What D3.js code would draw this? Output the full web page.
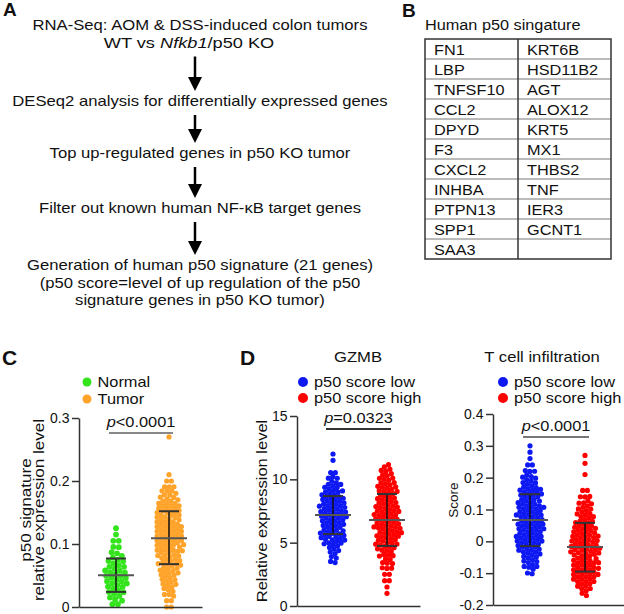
<!DOCTYPE html>
<html>
<head>
<meta charset="utf-8">
<script src="https://cdn.jsdelivr.net/npm/d3@7"></script>
<style>
  body { margin: 0; background: #fff; }
  svg { font-family: "Liberation Sans", Arial, sans-serif; }
</style>
</head>
<body>
<div id="container"></div>
<script>
// ---- panel A: workflow text (|...| = italic) ----
var flowSteps = [
  ["RNA-Seq: AOM & DSS-induced colon tumors", "WT vs |Nfkb1|/p50 KO"],
  ["DESeq2 analysis for differentially expressed genes"],
  ["Top up-regulated genes in p50 KO tumor"],
  ["Filter out known human NF-\u03baB target genes"],
  ["Generation of human p50 signature (21 genes)",
   "(p50 score=level of up regulation of the p50",
   "signature genes in p50 KO tumor)"]
];

// ---- panel B: gene table ----
var tableTitle = "Human p50 singature";
var genesLeft = ["FN1", "LBP", "TNFSF10", "CCL2", "DPYD", "F3", "CXCL2", "INHBA", "PTPN13", "SPP1", "SAA3"];
var genesRight = ["KRT6B", "HSD11B2", "AGT", "ALOX12", "KRT5", "MX1", "THBS2", "TNF", "IER3", "GCNT1", ""];

// ---- panel C: p50 signature, normal vs tumor (binned dot counts) ----
var cGroups = ["Normal", "Tumor"];
var normalLevels = [0.005, 0.015, 0.025, 0.035, 0.045, 0.055, 0.065, 0.075, 0.085, 0.095, 0.105, 0.115, 0.125];
var normalCounts = [2, 3, 5, 6, 7, 6, 5, 4, 2, 2, 2, 1, 1];
var tumorLevels = [0, 0.01, 0.02, 0.03, 0.04, 0.05, 0.06, 0.07, 0.08, 0.09, 0.10, 0.11, 0.12, 0.13, 0.14, 0.15, 0.16, 0.17, 0.18, 0.19, 0.20, 0.21, 0.27];
var tumorCounts = [2, 2, 3, 4, 5, 6, 7, 8, 8, 9, 10, 10, 10, 10, 9, 8, 8, 6, 5, 3, 2, 1, 1];
var cMean = [0.0505, 0.109];
var cSdLow = [0.024, 0.068];
var cSdHigh = [0.077, 0.152];
var cTicks = [0, 0.1, 0.2, 0.3];
var cTickLabels = ["0", "0.1", "0.2", "0.3"];
var cP = "|p|<0.0001";

// ---- panel D left: GZMB ----
var dGroups = ["p50 score low", "p50 score high"];
var gzLowLevels = [3.5, 4.0, 4.5, 5.0, 5.5, 6.0, 6.5, 7.0, 7.5, 8.0, 8.5, 9.0, 9.5, 10.0, 10.5, 11.5, 12.0];
var gzLowCounts = [2, 2, 4, 6, 8, 10, 10, 10, 10, 10, 8, 7, 5, 3, 2, 1, 1];
var gzHighLevels = [1.0, 1.5, 2.0, 2.5, 3.0, 3.5, 4.0, 4.5, 5.0, 5.5, 6.0, 6.5, 7.0, 7.5, 8.0, 8.5, 9.0, 9.5, 10.0, 10.5, 11.0];
var gzHighCounts = [1, 1, 2, 2, 3, 4, 5, 6, 7, 8, 10, 10, 10, 8, 8, 7, 7, 7, 6, 4, 2];
var gzMean = [7.18, 6.79];
var gzSdLow = [5.68, 4.74];
var gzSdHigh = [8.68, 8.84];
var gzTicks = [0, 5, 10, 15];
var gzTickLabels = ["0", "5", "10", "15"];
var gzP = "|p|=0.0323";

// ---- panel D right: T cell infiltration ----
var tLowLevels = [-0.10, -0.08, -0.06, -0.04, -0.02, 0, 0.02, 0.04, 0.06, 0.08, 0.10, 0.12, 0.14, 0.16, 0.18, 0.20, 0.22, 0.24, 0.26, 0.28, 0.30];
var tLowCounts = [2, 4, 5, 7, 8, 9, 10, 10, 10, 10, 9, 9, 8, 7, 6, 4, 3, 2, 1, 1, 1];
var tHighLevels = [-0.16, -0.14, -0.12, -0.10, -0.08, -0.06, -0.04, -0.02, 0, 0.02, 0.04, 0.06, 0.08, 0.10, 0.12, 0.14, 0.16, 0.21, 0.245, 0.27];
var tHighCounts = [2, 5, 8, 10, 10, 10, 10, 10, 10, 9, 8, 7, 6, 5, 4, 3, 2, 1, 1, 1];
var tMean = [0.067, -0.018];
var tSdLow = [-0.015, -0.095];
var tSdHigh = [0.148, 0.058];
var tTicks = [-0.2, -0.1, 0, 0.1, 0.2, 0.3, 0.4];
var tTickLabels = ["-0.2", "-0.1", "0", "0.1", "0.2", "0.3", "0.4"];
var tP = "|p|<0.0001";

var W = 624, H = 614;

var svg = d3.select("#container").append("svg")
  .attr("width", W)
  .attr("height", H);

// text helper: the figure's type is a bit stretched along the writing direction
function addText(parent, x, y, str, o) {
  var tr = "translate(" + x + "," + y + ")";
  if (o.rotate) tr += " rotate(-90)";
  tr += " scale(" + (o.sx || 1) + ",1)";
  var t = parent.append("g")
    .attr("transform", tr)
    .append("text")
    .attr("text-anchor", o.anchor || "start")
    .attr("font-size", o.size)
    .attr("font-weight", o.weight || null)
    .attr("dy", o.dy || null)
    .attr("fill", o.fill || "#111");
  str.split("|").forEach(function (part, k) {
    if (part === "") return;
    t.append("tspan")
      .attr("font-style", k % 2 === 1 ? "italic" : null)
      .text(part);
  });
  return t;
}

// panel letters
addText(svg, 3, 16, "A", { size: 19, weight: "bold" });
addText(svg, 402, 17, "B", { size: 19, weight: "bold" });
addText(svg, 2, 365, "C", { size: 21, weight: "bold" });
addText(svg, 240, 365, "D", { size: 21, weight: "bold" });

// ---------- panel A ----------
var stepBaselines = [30, 106, 158, 213, 270];
var lineGap = 17.5;
var gA = svg.append("g");
var arrowX = 195;

flowSteps.forEach(function (lines, i) {
  lines.forEach(function (line, j) {
    addText(gA, i === 0 && j === 1 ? 189 : 200, stepBaselines[i] + j * lineGap, line,
      { size: 14, sx: i === 0 && j === 1 ? 1.3 : 1.19, anchor: "middle" });
  });
  if (i < flowSteps.length - 1) {
    var y0 = stepBaselines[i] + (lines.length - 1) * lineGap + 9;
    var y1 = stepBaselines[i + 1] - 15;
    gA.append("line")
      .attr("x1", arrowX).attr("x2", arrowX)
      .attr("y1", y0).attr("y2", y1 - 10)
      .attr("stroke", "#000")
      .attr("stroke-width", 2.5);
    gA.append("path")
      .attr("d", "M" + (arrowX - 7) + "," + (y1 - 14) + "L" + (arrowX + 7) + "," + (y1 - 14) + "L" + arrowX + "," + y1 + "Z")
      .attr("fill", "#000");
  }
});

// ---------- panel B ----------
var tbl = { x: 425, y: 39, w: 186, rowH: 20, split: 93 };
var gB = svg.append("g");
addText(gB, tbl.x, 30, tableTitle, { size: 15.5, sx: 1.05 });

var rowScale = d3.scaleBand()
  .domain(d3.range(genesLeft.length))
  .range([tbl.y, tbl.y + tbl.rowH * genesLeft.length]);

gB.selectAll("line.row")
  .data(d3.range(1, genesLeft.length))
  .enter()
  .append("line")
  .attr("class", "row")
  .attr("x1", tbl.x).attr("x2", tbl.x + tbl.w)
  .attr("y1", (d) => rowScale(d)).attr("y2", (d) => rowScale(d))
  .attr("stroke", "#777")
  .attr("stroke-width", 1);
gB.append("line")
  .attr("x1", tbl.x + tbl.split).attr("x2", tbl.x + tbl.split)
  .attr("y1", tbl.y).attr("y2", tbl.y + tbl.rowH * genesLeft.length)
  .attr("stroke", "#333")
  .attr("stroke-width", 1.5);
gB.append("rect")
  .attr("x", tbl.x).attr("y", tbl.y)
  .attr("width", tbl.w).attr("height", tbl.rowH * genesLeft.length)
  .attr("fill", "none")
  .attr("stroke", "#333")
  .attr("stroke-width", 1.5);

[[genesLeft, tbl.x + 9], [genesRight, tbl.x + tbl.split + 9]].forEach(function (col) {
  col[0].forEach(function (gene, i) {
    if (gene) addText(gB, col[1], rowScale(i) + 16, gene, { size: 15.5, sx: 1.05 });
  });
});

// ---------- dot plot helper ----------
function swarm(levels, counts, y, cx, r, pack) {
  var nodes = [];
  levels.forEach(function (v, i) {
    for (var j = 0; j < counts[i]; j++) {
      nodes.push({ x: cx + (j - (counts[i] - 1) / 2) * r * 1.2, y: y(v), ty: y(v) });
    }
  });
  var sim = d3.forceSimulation(nodes)
    .force("x", d3.forceX(cx).strength(0.2))
    .force("y", d3.forceY((d) => d.ty).strength(0.6))
    .force("c", d3.forceCollide(r * pack).iterations(3))
    .stop();
  for (var k = 0; k < 300; k++) sim.tick();
  return nodes;
}

function dotPanel(p) {
  var g = svg.append("g");
  var y = d3.scaleLinear().domain(p.domain).range([p.yBot, p.yTop]);
  var x = d3.scalePoint().domain(p.groups).range(p.centers);

  // dots
  p.series.forEach(function (s, i) {
    var nodes = swarm(s[0], s[1], y, x(p.groups[i]), p.r[i], p.pack[i]);
    g.append("g").selectAll("circle")
      .data(nodes)
      .enter()
      .append("circle")
      .attr("cx", (d) => d.x)
      .attr("cy", (d) => d.y)
      .attr("r", p.r[i])
      .attr("fill", p.colors[i]);
  });

  // mean +/- SD
  p.groups.forEach(function (gname, i) {
    var cx = x(gname);
    g.append("line")
      .attr("x1", cx).attr("x2", cx)
      .attr("y1", y(p.sdLow[i])).attr("y2", y(p.sdHigh[i]))
      .attr("stroke", "#111").attr("stroke-width", 1.5);
    [p.sdLow[i], p.sdHigh[i]].forEach(function (v) {
      g.append("line")
        .attr("x1", cx - 10).attr("x2", cx + 10)
        .attr("y1", y(v)).attr("y2", y(v))
        .attr("stroke", "#333").attr("stroke-width", 2);
    });
    g.append("line")
      .attr("x1", cx - 18).attr("x2", cx + 18)
      .attr("y1", y(p.mean[i])).attr("y2", y(p.mean[i]))
      .attr("stroke", "#555").attr("stroke-width", 2);
  });

  // axes
  var yAxis = d3.axisLeft(y)
    .tickValues(p.ticks)
    .tickFormat((d, i) => p.tickLabels[i])
    .tickSize(7)
    .tickSizeOuter(0)
    .tickPadding(2.5);
  var ya = g.append("g")
    .attr("transform", "translate(" + p.axisX + ",0)")
    .call(yAxis);
  ya.attr("font-size", 14).attr("font-family", null);
  ya.selectAll("path, line").attr("stroke", "#333").attr("stroke-width", 1.5);
  ya.selectAll("text").attr("fill", "#111").attr("dy", "0.33em");

  var xf = d3.scaleLinear().range([p.axisX, p.axisEnd]);
  var xa = g.append("g")
    .attr("transform", "translate(0," + p.yBot + ")")
    .call(d3.axisBottom(xf).tickValues([]).tickSizeOuter(0));
  xa.select("path").attr("stroke", "#333").attr("stroke-width", 1.5);

  // y title (one or two lines)
  p.yTitle.forEach(function (line, i) {
    addText(g, p.titleX[i], p.titleY, line,
      { size: p.titleSize, sx: p.titleSx, anchor: "middle", rotate: true });
  });

  // significance
  var x0 = x(p.groups[0]) - 7, x1 = x(p.groups[1]) + 4;
  g.append("line")
    .attr("x1", x0).attr("x2", x1)
    .attr("y1", p.pY).attr("y2", p.pY)
    .attr("stroke", p.pColor).attr("stroke-width", 2);
  addText(g, (x0 + x1) / 2, p.pY - 6, p.pText, { size: 14, sx: 1.17, anchor: "middle" });

  // title
  if (p.title) {
    addText(g, p.titleCx, 362, p.title, { size: 14, sx: 1.19, anchor: "middle" });
  }

  // legend
  p.groups.forEach(function (gname, i) {
    g.append("circle")
      .attr("cx", p.legX)
      .attr("cy", 382 + i * p.legGap)
      .attr("r", p.legR)
      .attr("fill", p.colors[i]);
    addText(g, p.legX + p.legR + 6, 382 + i * p.legGap, gname,
      { size: 14, sx: 1.17, dy: "0.36em" });
  });
}

dotPanel({
  groups: cGroups,
  series: [[normalLevels, normalCounts], [tumorLevels, tumorCounts]],
  colors: ["#33e31c", "#ffa32a"],
  r: [2.9, 2.6], pack: [0.95, 0.9],
  domain: [0, 0.3], yTop: 418, yBot: 607,
  centers: [116, 169],
  axisX: 79, axisEnd: 202,
  ticks: cTicks, tickLabels: cTickLabels,
  mean: cMean, sdLow: cSdLow, sdHigh: cSdHigh,
  yTitle: ["p50 signature", "relative expression level"],
  titleX: [31, 44], titleY: 510, titleSize: 14, titleSx: 1.22,
  pY: 433, pColor: "#888", pText: cP,
  legX: 87, legGap: 17, legR: 4.5
});

dotPanel({
  groups: dGroups,
  series: [[gzLowLevels, gzLowCounts], [gzHighLevels, gzHighCounts]],
  colors: ["#0d18f2", "#ff0000"],
  r: [2.6, 2.6], pack: [0.9, 0.9],
  domain: [0, 15], yTop: 416, yBot: 606,
  centers: [333, 387],
  axisX: 297, axisEnd: 420,
  ticks: gzTicks, tickLabels: gzTickLabels,
  mean: gzMean, sdLow: gzSdLow, sdHigh: gzSdHigh,
  yTitle: ["Relative expression level"],
  titleX: [267], titleY: 511, titleSize: 14, titleSx: 1.18,
  pY: 429, pColor: "#333", pText: gzP,
  title: "GZMB", titleCx: 358,
  legX: 303, legGap: 16, legR: 5
});

dotPanel({
  groups: dGroups,
  series: [[tLowLevels, tLowCounts], [tHighLevels, tHighCounts]],
  colors: ["#0d18f2", "#ff0000"],
  r: [2.6, 2.6], pack: [0.9, 0.9],
  domain: [-0.2, 0.4], yTop: 414, yBot: 605,
  centers: [530, 585],
  axisX: 493, axisEnd: 624,
  ticks: tTicks, tickLabels: tTickLabels,
  mean: tMean, sdLow: tSdLow, sdHigh: tSdHigh,
  yTitle: ["Score"],
  titleX: [458], titleY: 500, titleSize: 13.5, titleSx: 1,
  pY: 437, pColor: "#777", pText: tP,
  title: "T cell infiltration", titleCx: 542,
  legX: 503, legGap: 16, legR: 5
});
</script>
</body>
</html>
